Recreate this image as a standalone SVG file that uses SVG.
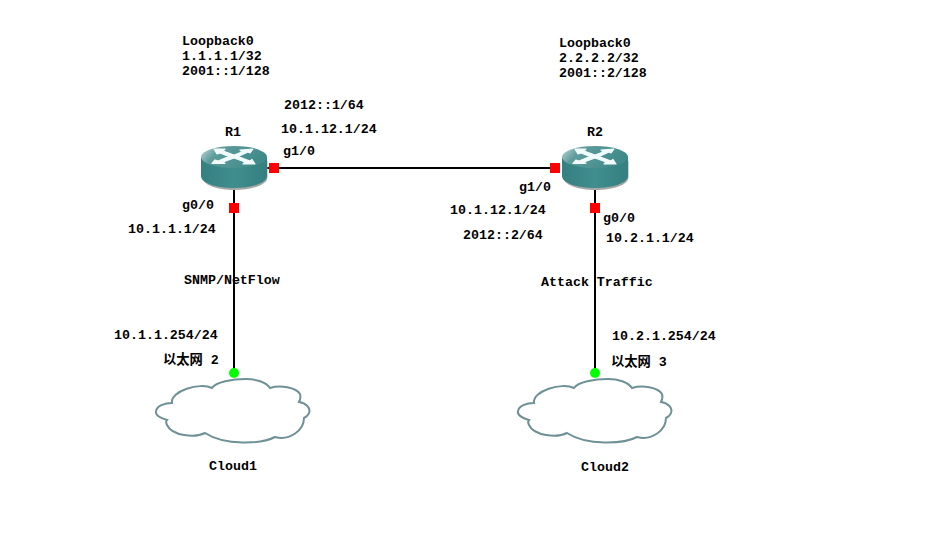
<svg xmlns="http://www.w3.org/2000/svg" width="926" height="545" viewBox="0 0 926 545">
<style>
text{font-family:"Liberation Mono","Noto Sans CJK SC",monospace;font-size:13.3px;font-weight:bold;fill:#000}
.ln{stroke:#000;stroke-width:2;fill:none}
.cl{fill:#fff;stroke:#6f9196;stroke-width:2}
.rp{fill:#f2fbfb;stroke:#f2fbfb;stroke-width:1.2;stroke-linejoin:round}
</style>
<defs>
<linearGradient id="top" x1="0" y1="0" x2="1" y2="0.3"><stop offset="0" stop-color="#c4dcdc"/><stop offset="0.3" stop-color="#5f9c9c"/><stop offset="1" stop-color="#3f8a8a"/></linearGradient>
<linearGradient id="side" x1="0" y1="0" x2="1" y2="0"><stop offset="0" stop-color="#347f7f"/><stop offset="0.5" stop-color="#418e8e"/><stop offset="1" stop-color="#347f7f"/></linearGradient>
<g id="router">
<path d="M1 14V30C1 38 15 43 33 43S66 38 66 30V14Z" fill="#a8a8a8" transform="translate(0.5,1)"/>
<path d="M0 11V30C0 37 15 42 33 42S66 37 66 30V11Z" fill="url(#side)"/>
<ellipse cx="33" cy="11" rx="33" ry="11" fill="url(#top)"/>
<path class="rp" d="M13 3L24 3L22 5L33 9L41 6L39 4L52 3L49 7L47 6L37 10.500L49 15L51 13.500L54 18L42 18L44 16L33 12L22 16L24 17.500L11 17.500L14 14L17 15L28 10.500L19 7L16 8Z"/>
</g>
<path id="cloud" class="cl" d="M212 388C216 382 232 379 246 379C256 379 266 382 270 388C280 385 296 387 300 394C301 397 300 400 299 402C306 403 311 408 309 413C308 416 306 417 304 418C304 430 290 441 275 437C262 444 225 446 205 433C195 438 172 436 167 425C166 423 166 421 167 420C160 418 155 415 156 411C157 406 164 403 172 403C170 391 200 382 212 388Z"/>
</defs>
<rect width="926" height="545" fill="#fff"/>
<g id="connectors">
<path class="ln" d="M266 168H555"/>
<path class="ln" d="M234 188V373"/>
<path class="ln" d="M595 188V373"/>
</g>
<g id="R1"><use href="#router" x="201" y="146"/><text x="225" y="136">R1</text></g>
<g id="R2"><use href="#router" x="562" y="146"/><text x="587" y="136">R2</text></g>
<g id="Cloud1"><use href="#cloud"/><text x="209" y="470">Cloud1</text></g>
<g id="Cloud2"><use href="#cloud" x="362"/><text x="581" y="471">Cloud2</text></g>
<g id="ports">
<rect x="269" y="163" width="10" height="10" fill="#f00"/>
<rect x="229" y="203" width="10" height="10" fill="#f00"/>
<rect x="550" y="163" width="10" height="10" fill="#f00"/>
<rect x="590" y="203" width="10" height="10" fill="#f00"/>
<circle cx="234" cy="373" r="5" fill="#0f0"/>
<circle cx="595" cy="373" r="5" fill="#0f0"/>
</g>
<g id="labels">
<text x="182" y="45">Loopback0</text>
<text x="182" y="60">1.1.1.1/32</text>
<text x="182" y="75">2001::1/128</text>
<text x="559" y="47">Loopback0</text>
<text x="559" y="62">2.2.2.2/32</text>
<text x="559" y="77">2001::2/128</text>
<text x="284" y="109">2012::1/64</text>
<text x="281" y="133">10.1.12.1/24</text>
<text x="283" y="155">g1/0</text>
<text x="182" y="209">g0/0</text>
<text x="128" y="233">10.1.1.1/24</text>
<text x="184" y="284">SNMP/NetFlow</text>
<text x="114" y="339">10.1.1.254/24</text>
<text x="163" y="364">以太网 2</text>
<text x="519" y="191">g1/0</text>
<text x="450" y="214">10.1.12.1/24</text>
<text x="463" y="239">2012::2/64</text>
<text x="603" y="222">g0/0</text>
<text x="606" y="242">10.2.1.1/24</text>
<text x="541" y="286">Attack Traffic</text>
<text x="612" y="340">10.2.1.254/24</text>
<text x="611" y="366">以太网 3</text>
</g>
</svg>
